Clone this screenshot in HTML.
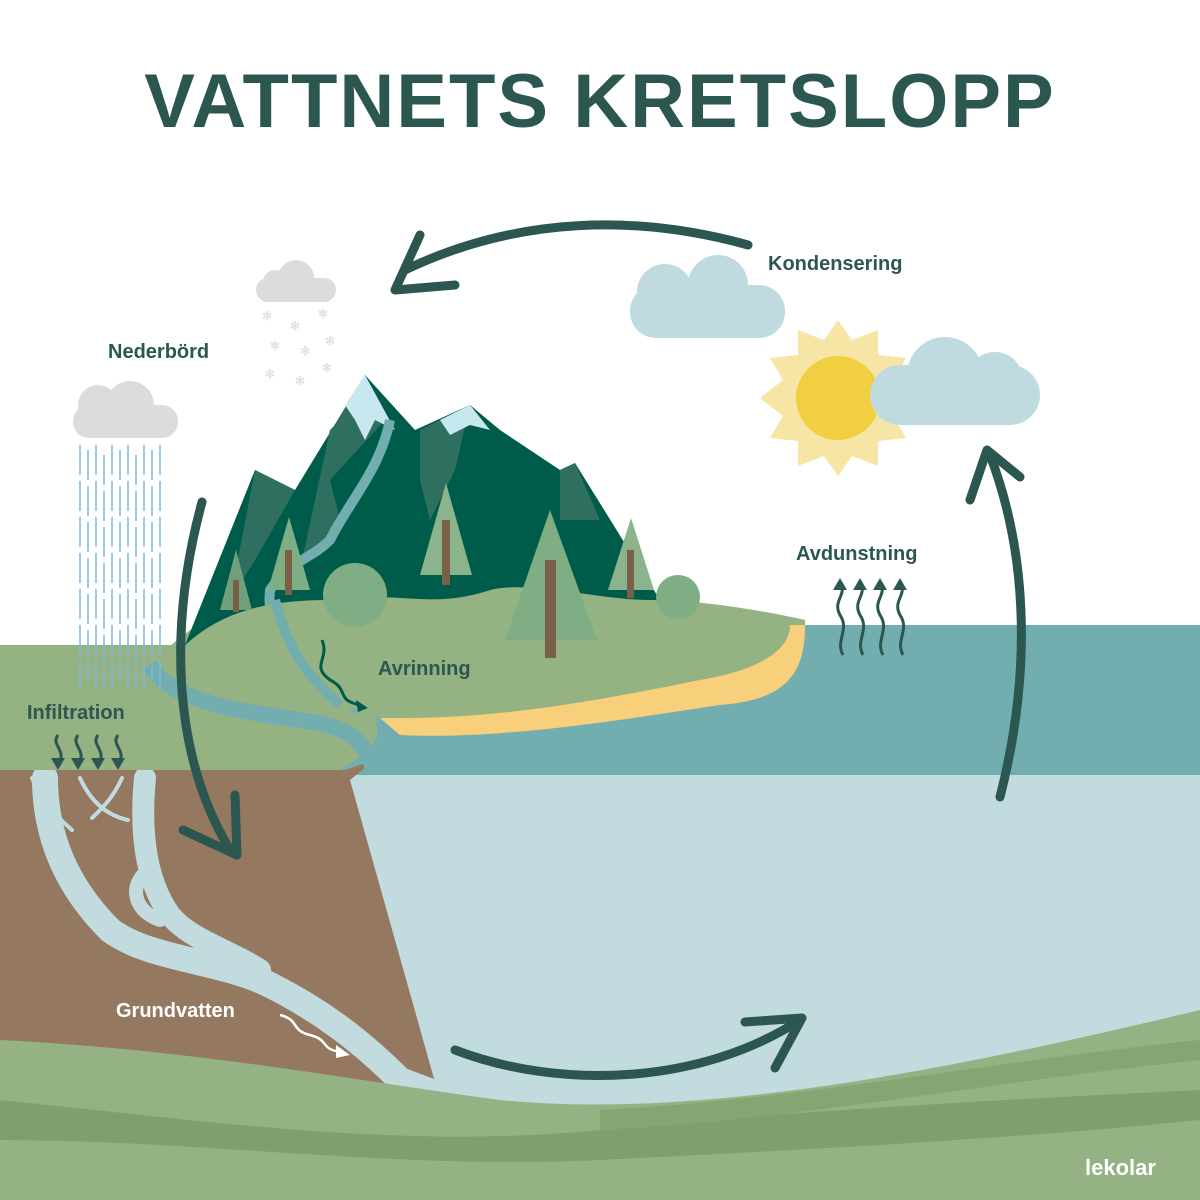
<!DOCTYPE html>
<html><head><meta charset="utf-8"><style>
html,body{margin:0;padding:0;background:#fff}
svg{display:block}
text{font-family:"Liberation Sans",sans-serif;font-weight:bold}
</style></head><body>
<svg width="1200" height="1200" viewBox="0 0 1200 1200" xmlns="http://www.w3.org/2000/svg">
<rect width="1200" height="1200" fill="#fff"/>
<text x="600" y="127" text-anchor="middle" font-size="76" fill="#2b5750" letter-spacing="2">VATTNETS KRETSLOPP</text>

<rect x="330" y="770" width="870" height="360" fill="#c2dbdf"/>
<rect x="340" y="625" width="860" height="150" fill="#72aeb0"/>
<path d="M0 770 L345 770 L375 760 L350 780 L440 1100 L0 1100 Z" fill="#94785f"/>
<!-- groundwater streams -->
<g stroke="#c2dbdf" fill="none" stroke-linecap="round" stroke-linejoin="round">
<path d="M45 778 C45 840 70 890 110 930 C150 960 220 960 270 985 C320 1010 360 1040 400 1080 L440 1095" stroke-width="26"/>
<path d="M145 778 C140 830 145 880 170 915 C190 940 230 950 260 970" stroke-width="22"/>
<path d="M150 870 C130 880 130 910 160 920" stroke-width="14"/>
<path d="M80 778 C90 800 105 815 128 820 M122 778 C112 800 100 810 92 818" stroke-width="4"/>
<path d="M32 778 C40 800 55 815 72 830" stroke-width="4"/>
</g>
<path d="M0 645 L340 645 L375 700 L378 745 L340 770 L0 770 Z" fill="#95b283"/>
<path d="M150 670 C170 640 200 620 250 600 L800 620 C800 660 780 690 700 700 C600 715 500 720 400 720 C330 710 260 700 210 690 C180 685 155 680 150 670 Z" fill="#95b283"/>
<path d="M185 645 L255 470 L295 490 L365 375 L415 430 L470 405 L500 430 L560 470 L575 463 L660 600 L185 645 Z" fill="#005c4a"/>
<path d="M255 470 L295 490 L255 560 L230 600 Z M335 425 L365 375 L385 420 L330 480 L340 520 L300 570 L330 430Z M420 430 L470 405 L455 470 L430 520 L420 480 Z M560 470 L575 463 L600 520 L560 520Z" fill="#2f6f60"/>
<path d="M345 405 L365 375 L395 430 L375 420 L365 440 L355 420 Z" fill="#c8e8f0"/>
<path d="M440 420 L470 405 L490 430 L470 425 L450 435 Z" fill="#c8e8f0"/>
<path d="M390 420 C380 470 350 500 330 540 C310 560 290 560 270 590 C265 640 300 680 360 710" stroke="#72aeb0" stroke-width="10" fill="none"/>
<path d="M180 650 C220 610 270 600 330 600 C400 590 430 610 490 590 C530 580 600 600 650 600 C700 600 760 610 805 620 L805 640 C750 700 600 710 450 720 L180 690 Z" fill="#95b283"/>
<path d="M150 665 C170 700 230 710 300 720 C340 725 360 735 370 760 L380 750 C380 730 420 730 440 730" stroke="#72aeb0" stroke-width="16" fill="none"/>
<path d="M275 600 C285 640 300 670 340 705" stroke="#72aeb0" stroke-width="10" fill="none"/>
<path d="M380 718 C500 720 600 700 700 680 C760 670 790 650 790 625 L805 625 C805 670 790 700 720 705 C620 720 500 740 400 735 Z" fill="#f8cf7a"/>
<g>
<polygon points="236,550 220,610 252,610" fill="#6fa07a"/><rect x="233" y="580" width="6" height="32" fill="#7a6048"/>
<polygon points="289,517 268,590 310,590" fill="#7fae85"/><rect x="285" y="550" width="7" height="45" fill="#7a6048"/>
<polygon points="446,483 420,575 472,575" fill="#8bb48d"/><rect x="442" y="520" width="8" height="65" fill="#7a6048"/>
<polygon points="550,510 505,640 597,640" fill="#7fae85"/><rect x="545" y="560" width="11" height="98" fill="#7a6048"/>
<polygon points="631,518 608,590 654,590" fill="#8bb48d"/><rect x="627" y="550" width="7" height="48" fill="#7a6048"/>
<circle cx="355" cy="595" r="32" fill="#7fae85"/>
<circle cx="678" cy="597" r="22" fill="#7fae85"/>
</g>
<text x="378" y="675" font-size="20" fill="#2b5750">Avrinning</text>
<path d="M322 640 C330 660 310 665 330 680 C350 690 335 700 360 705" stroke="#005c4a" stroke-width="3" fill="none"/>
<polygon points="356,700 368,708 358,712" fill="#005c4a"/>
<path d="M0 1040 C200 1050 350 1080 500 1100 C700 1120 950 1070 1200 1010 L1200 1200 L0 1200 Z" fill="#94b283"/>
<path d="M0 1100 C200 1120 400 1150 600 1130 C800 1110 1000 1100 1200 1090 L1200 1120 C1000 1140 800 1150 600 1160 C400 1170 200 1140 0 1140Z" fill="#7fa06e"/>
<path d="M600 1110 C800 1100 1000 1060 1200 1040 L1200 1060 C1000 1080 800 1120 600 1130Z" fill="#84a673"/>
<text x="1085" y="1175" font-size="22" fill="#fff">lekolar</text>
<g fill="#c0dbe0">
<rect x="630" y="285" width="155" height="53" rx="26"/><circle cx="665" cy="292" r="28"/><circle cx="718" cy="285" r="30"/>
</g>
<g transform="translate(838,398)">
<polygon fill="#f7e5a6" points="0,-78 14,-58 40,-68 40,-43 68,-40 55,-18 78,0 55,18 68,40 40,43 40,68 14,58 0,78 -14,58 -40,68 -40,43 -68,40 -55,18 -78,0 -55,-18 -68,-40 -40,-43 -40,-68 -14,-58"/>
<circle r="42" fill="#f0d040"/>
</g>
<g fill="#c0dbe0">
<rect x="870" y="365" width="170" height="60" rx="30"/><circle cx="945" cy="375" r="38"/><circle cx="995" cy="380" r="28"/>
</g>
<g fill="#dcdcdc">
<rect x="256" y="278" width="80" height="24" rx="12"/><circle cx="296" cy="278" r="18"/><circle cx="275" cy="282" r="12"/>
<rect x="73" y="405" width="105" height="33" rx="16"/><circle cx="130" cy="405" r="24"/><circle cx="98" cy="405" r="20"/>
</g>
<g fill="#e2e2e2" font-size="12"><text x="262" y="320">✻</text><text x="290" y="330">✻</text><text x="318" y="318">✻</text><text x="270" y="350">✻</text><text x="300" y="355">✻</text><text x="325" y="345">✻</text><text x="265" y="378">✻</text><text x="295" y="385">✻</text><text x="322" y="372">✻</text></g>
<g stroke="#7bb8e3" stroke-width="1.5" stroke-dasharray="30 6">
<line x1="80" y1="445" x2="80" y2="690"/><line x1="88" y1="450" x2="88" y2="680"/><line x1="96" y1="445" x2="96" y2="690"/><line x1="104" y1="455" x2="104" y2="685"/><line x1="112" y1="445" x2="112" y2="690"/><line x1="120" y1="450" x2="120" y2="680"/><line x1="128" y1="445" x2="128" y2="690"/><line x1="136" y1="455" x2="136" y2="685"/><line x1="144" y1="445" x2="144" y2="690"/><line x1="152" y1="450" x2="152" y2="680"/><line x1="160" y1="445" x2="160" y2="690"/>
</g>
<g font-size="20" fill="#2b5750">
<text x="108" y="358">Nederbörd</text>
<text x="768" y="270">Kondensering</text>
<text x="796" y="560">Avdunstning</text>
<text x="27" y="719">Infiltration</text>
</g>
<text x="116" y="1017" font-size="20" fill="#fff">Grundvatten</text>
<g stroke="#2b5750" stroke-width="3" fill="none">
<path d="M843 655 C835 640 850 630 840 615 C832 600 848 595 840 582"/><path d="M863 655 C855 640 870 630 860 615 C852 600 868 595 860 582"/><path d="M883 655 C875 640 890 630 880 615 C872 600 888 595 880 582"/><path d="M903 655 C895 640 910 630 900 615 C892 600 908 595 900 582"/>
<path d="M58 735 C50 745 68 750 58 765"/><path d="M78 735 C70 745 88 750 78 765"/><path d="M98 735 C90 745 108 750 98 765"/><path d="M118 735 C110 745 128 750 118 765"/>
</g>
<g fill="#2b5750"><polygon points="833,590 840,578 847,590"/><polygon points="853,590 860,578 867,590"/><polygon points="873,590 880,578 887,590"/><polygon points="893,590 900,578 907,590"/>
<polygon points="51,758 58,770 65,758"/><polygon points="71,758 78,770 85,758"/><polygon points="91,758 98,770 105,758"/><polygon points="111,758 118,770 125,758"/></g>
<path d="M280 1015 C300 1020 290 1030 310 1035 C330 1040 320 1050 342 1052" stroke="#fff" stroke-width="2.5" fill="none"/>
<polygon points="336,1045 350,1055 336,1058" fill="#fff"/>
<g stroke="#2b5750" stroke-width="9" fill="none" stroke-linecap="round" stroke-linejoin="round">
<path d="M748 245 C640 215 520 215 405 270"/>
<path d="M420 235 L395 290 L455 285"/>
<path d="M202 502 C170 620 170 750 230 850"/>
<path d="M183 830 L237 855 L235 795"/>
<path d="M455 1050 C560 1090 700 1085 800 1020"/>
<path d="M745 1022 L802 1018 L775 1068"/>
<path d="M1000 797 C1030 680 1030 560 990 455"/>
<path d="M970 500 L987 450 L1020 477"/>
</g>
</svg>
</body></html>
